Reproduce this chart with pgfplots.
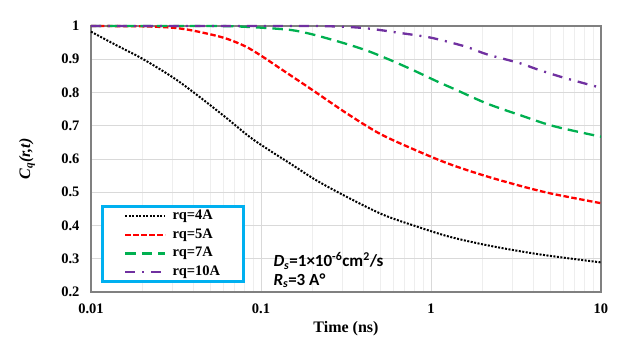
\documentclass[border=0pt]{standalone}
\usepackage{fontspec}
\setmainfont{Liberation Serif}
\newfontfamily\calibri{Carlito}
\usepackage{pgfplots}
\pgfplotsset{compat=1.18}
\definecolor{c4}{HTML}{000000}
\definecolor{c5}{HTML}{FF0000}
\definecolor{c7}{HTML}{00B050}
\definecolor{c10}{HTML}{7030A0}
\definecolor{legbox}{HTML}{00B0F0}
\definecolor{gridmaj}{HTML}{D9D9D9}
\definecolor{gridmin}{HTML}{EEEEEE}
\definecolor{frame}{HTML}{808080}

\begin{document}
\begin{tikzpicture}
\useasboundingbox (-91pt,-59pt) rectangle (544pt,292pt);
\begin{axis}[
  at={(0,0)}, anchor=south west,
  scale only axis, width=510pt, height=266pt,
  xmode=log, xmin=0.01, xmax=10,
  ymin=0.2, ymax=1,
  xtick={0.01,0.1,1,10}, xticklabels={0.01,0.1,1,10},
  ytick={0.2,0.3,0.4,0.5,0.6,0.7,0.8,0.9,1},
  yticklabels={0.2,0.3,0.4,0.5,0.6,0.7,0.8,0.9,1},
  ticklabel style={font=\bfseries\fontsize{14.5}{17}\selectfont},
  yticklabel style={xshift=-8pt},
  xticklabel style={yshift=-8pt},
  tick style={draw=none},
  ymajorgrids, xmajorgrids, xminorgrids,
  major grid style={gridmaj, line width=0.8pt},
  minor grid style={gridmin, line width=0.6pt},
  axis line style={frame, line width=1.2pt},
  xlabel={\bfseries Time (ns)},
  ylabel={\bfseries\itshape C\textsubscript{q}(r,t)},
  label style={font=\fontsize{16}{19}\selectfont},
  xlabel style={at={(rel axis cs:0.5,-0.139)}, anchor=center},
  ylabel style={at={(rel axis cs:-0.1255,0.5)}, anchor=center},
  clip=false,
  legend image code/.code={\draw[#1] (0pt,0pt) -- (40pt,0pt);},
  legend cell align=left,
  legend style={at={(rel axis cs:0.0196,0.034)}, anchor=south west,
    draw=legbox, line width=2.6pt, fill=white,
    inner xsep=22pt, inner ysep=2pt, row sep=3pt,
    nodes={text height=9.5pt, text depth=3pt, inner sep=1.5pt},
    /tikz/every odd column/.append style={column sep=4.5pt},
    font=\bfseries\fontsize{14.5}{17}\selectfont},
]
% rq = 4 A
\addplot[c4, smooth, tension=0.5, line width=2pt, dash pattern=on 2pt off 1.5pt] coordinates {
  (0.01,0.983) (0.014,0.943) (0.02,0.902) (0.03,0.847) (0.04,0.801)
  (0.06,0.731) (0.086,0.666) (0.113,0.625) (0.15,0.585) (0.213,0.535)
  (0.334,0.481) (0.525,0.432) (0.824,0.397) (1.29,0.366)
  (2.22,0.339) (4.37,0.313) (10,0.289)
};
\addlegendentry{rq=4A}
% rq = 5 A
\addplot[c5, smooth, tension=0.5, line width=2.3pt, dash pattern=on 5.5pt off 2.5pt] coordinates {
  (0.01,1.000) (0.02,0.999) (0.03,0.995) (0.04,0.986) (0.06,0.965)
  (0.08,0.940) (0.1,0.911) (0.13,0.872) (0.2,0.808) (0.32,0.737)
  (0.5,0.676) (0.8,0.628) (1.25,0.587) (2,0.552) (3.2,0.522)
  (5,0.497) (10,0.467)
};
\addlegendentry{rq=5A}
% rq = 7 A
\addplot[c7, smooth, tension=0.5, line width=2.3pt, dash pattern=on 10.5pt off 6pt] coordinates {
  (0.01,1.000) (0.03,1.000) (0.05,1.000) (0.07,0.999) (0.1,0.995) (0.15,0.988)
  (0.2,0.975) (0.3,0.950) (0.42,0.926) (0.574,0.898) (0.787,0.867)
  (1.1,0.832) (1.35,0.812) (2.13,0.767) (3.34,0.732) (5.25,0.699)
  (10,0.667)
};
\addlegendentry{rq=7A}
% rq = 10 A
\addplot[c10, smooth, tension=0.5, line width=2.3pt, dash pattern=on 10pt off 7pt on 2pt off 7pt] coordinates {
  (0.01,1.000) (0.03,1.000) (0.1,1.000) (0.2,1.000) (0.3,0.998) (0.4,0.994) (0.5,0.988)
  (0.66,0.979) (0.9,0.969) (1.08,0.961) (1.6,0.938) (2.13,0.915)
  (3.34,0.888) (4.2,0.870) (6.0,0.845) (10,0.814)
};
\addlegendentry{rq=10A}
\node[anchor=base west, inner sep=0pt, font=\calibri\bfseries\fontsize{17}{20}\selectfont]
  at (rel axis cs:0.3575,0.0959) {\textit{D\textsubscript{s}}=1×10\textsuperscript{-6}cm\textsuperscript{2}/s};
\node[anchor=base west, inner sep=0pt, font=\calibri\bfseries\fontsize{17}{20}\selectfont]
  at (rel axis cs:0.3575,0.0263) {\textit{R\textsubscript{s}}=3 A°};
\end{axis}
\end{tikzpicture}
\end{document}
